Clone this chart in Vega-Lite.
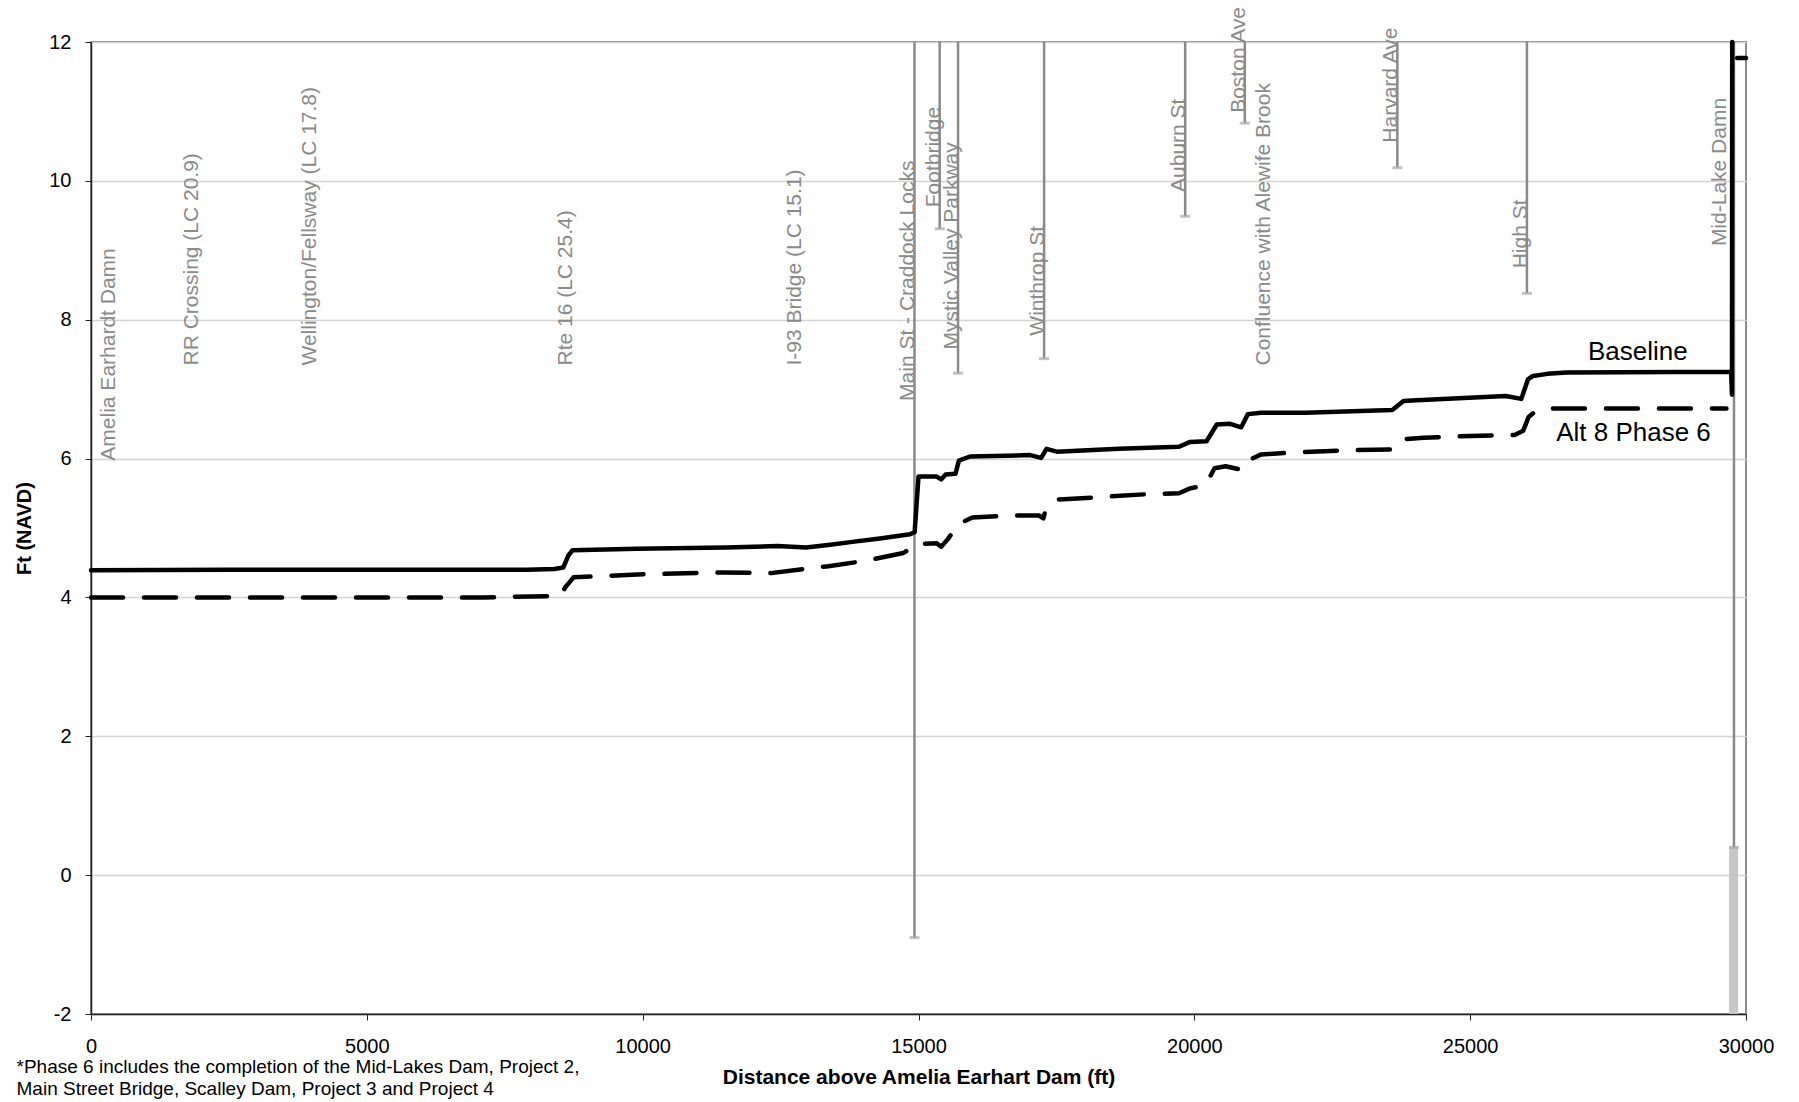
{
  "$schema": "https://vega.github.io/schema/vega-lite/v6.json",
  "width": 1655,
  "height": 972,
  "autosize": {"type": "none"},
  "padding": {"left": 91, "top": 42, "right": 53, "bottom": 88},
  "background": "white",
  "config": {
    "font": "Liberation Sans",
    "view": {"stroke": "#8c8c8c", "strokeWidth": 2},
    "axis": {"labelFont": "Liberation Sans", "titleFont": "Liberation Sans", "labelColor": "black", "titleColor": "black"}
  },
  "datasets": {
    "profiles": [
      {"series": "Baseline", "seg": "a", "x": 0, "y": 4.39},
      {"series": "Baseline", "seg": "a", "x": 2500, "y": 4.4},
      {"series": "Baseline", "seg": "a", "x": 7900, "y": 4.4},
      {"series": "Baseline", "seg": "a", "x": 8400, "y": 4.41},
      {"series": "Baseline", "seg": "a", "x": 8560, "y": 4.43},
      {"series": "Baseline", "seg": "a", "x": 8650, "y": 4.6},
      {"series": "Baseline", "seg": "a", "x": 8730, "y": 4.68},
      {"series": "Baseline", "seg": "a", "x": 9900, "y": 4.7},
      {"series": "Baseline", "seg": "a", "x": 11500, "y": 4.72},
      {"series": "Baseline", "seg": "a", "x": 12440, "y": 4.74},
      {"series": "Baseline", "seg": "a", "x": 12960, "y": 4.72},
      {"series": "Baseline", "seg": "a", "x": 13400, "y": 4.76},
      {"series": "Baseline", "seg": "a", "x": 13800, "y": 4.8},
      {"series": "Baseline", "seg": "a", "x": 14300, "y": 4.85},
      {"series": "Baseline", "seg": "a", "x": 14846, "y": 4.91},
      {"series": "Baseline", "seg": "a", "x": 14930, "y": 4.94},
      {"series": "Baseline", "seg": "a", "x": 15000, "y": 5.74},
      {"series": "Baseline", "seg": "a", "x": 15330, "y": 5.74},
      {"series": "Baseline", "seg": "a", "x": 15411, "y": 5.7},
      {"series": "Baseline", "seg": "a", "x": 15491, "y": 5.77},
      {"series": "Baseline", "seg": "a", "x": 15669, "y": 5.78},
      {"series": "Baseline", "seg": "a", "x": 15733, "y": 5.97},
      {"series": "Baseline", "seg": "a", "x": 15934, "y": 6.03},
      {"series": "Baseline", "seg": "a", "x": 17022, "y": 6.05},
      {"series": "Baseline", "seg": "a", "x": 17224, "y": 6.01},
      {"series": "Baseline", "seg": "a", "x": 17320, "y": 6.14},
      {"series": "Baseline", "seg": "a", "x": 17506, "y": 6.1},
      {"series": "Baseline", "seg": "a", "x": 18634, "y": 6.14},
      {"series": "Baseline", "seg": "a", "x": 19722, "y": 6.17},
      {"series": "Baseline", "seg": "a", "x": 19923, "y": 6.24},
      {"series": "Baseline", "seg": "a", "x": 20221, "y": 6.25},
      {"series": "Baseline", "seg": "a", "x": 20407, "y": 6.49},
      {"series": "Baseline", "seg": "a", "x": 20649, "y": 6.5},
      {"series": "Baseline", "seg": "a", "x": 20850, "y": 6.45},
      {"series": "Baseline", "seg": "a", "x": 20971, "y": 6.64},
      {"series": "Baseline", "seg": "a", "x": 21213, "y": 6.66},
      {"series": "Baseline", "seg": "a", "x": 22018, "y": 6.66},
      {"series": "Baseline", "seg": "a", "x": 23589, "y": 6.7},
      {"series": "Baseline", "seg": "a", "x": 23791, "y": 6.83},
      {"series": "Baseline", "seg": "a", "x": 24033, "y": 6.84},
      {"series": "Baseline", "seg": "a", "x": 25645, "y": 6.9},
      {"series": "Baseline", "seg": "a", "x": 25927, "y": 6.86},
      {"series": "Baseline", "seg": "a", "x": 26047, "y": 7.14},
      {"series": "Baseline", "seg": "a", "x": 26138, "y": 7.19},
      {"series": "Baseline", "seg": "a", "x": 26400, "y": 7.22},
      {"series": "Baseline", "seg": "a", "x": 26748, "y": 7.24},
      {"series": "Baseline", "seg": "a", "x": 29730, "y": 7.25},
      {"series": "Baseline", "seg": "a", "x": 29746, "y": 6.92},
      {"series": "Baseline", "seg": "a", "x": 29750, "y": 12},
      {"series": "Baseline", "seg": "b", "x": 29840, "y": 11.77},
      {"series": "Baseline", "seg": "b", "x": 30000, "y": 11.77},
      {"series": "Alt 8 Phase 6", "seg": "a", "x": 0, "y": 4.0},
      {"series": "Alt 8 Phase 6", "seg": "a", "x": 7128, "y": 4.0},
      {"series": "Alt 8 Phase 6", "seg": "a", "x": 8400, "y": 4.02},
      {"series": "Alt 8 Phase 6", "seg": "a", "x": 8514, "y": 4.03},
      {"series": "Alt 8 Phase 6", "seg": "a", "x": 8600, "y": 4.15},
      {"series": "Alt 8 Phase 6", "seg": "a", "x": 8665, "y": 4.21},
      {"series": "Alt 8 Phase 6", "seg": "a", "x": 8746, "y": 4.29},
      {"series": "Alt 8 Phase 6", "seg": "a", "x": 9901, "y": 4.33},
      {"series": "Alt 8 Phase 6", "seg": "a", "x": 11403, "y": 4.36},
      {"series": "Alt 8 Phase 6", "seg": "a", "x": 12327, "y": 4.35},
      {"series": "Alt 8 Phase 6", "seg": "a", "x": 13020, "y": 4.42},
      {"series": "Alt 8 Phase 6", "seg": "a", "x": 13367, "y": 4.45},
      {"series": "Alt 8 Phase 6", "seg": "a", "x": 14060, "y": 4.53},
      {"series": "Alt 8 Phase 6", "seg": "a", "x": 14726, "y": 4.64},
      {"series": "Alt 8 Phase 6", "seg": "a", "x": 14967, "y": 4.77},
      {"series": "Alt 8 Phase 6", "seg": "a", "x": 15330, "y": 4.78},
      {"series": "Alt 8 Phase 6", "seg": "a", "x": 15411, "y": 4.73},
      {"series": "Alt 8 Phase 6", "seg": "a", "x": 15532, "y": 4.84},
      {"series": "Alt 8 Phase 6", "seg": "a", "x": 15733, "y": 5.06},
      {"series": "Alt 8 Phase 6", "seg": "a", "x": 15975, "y": 5.15},
      {"series": "Alt 8 Phase 6", "seg": "a", "x": 16700, "y": 5.18},
      {"series": "Alt 8 Phase 6", "seg": "a", "x": 17183, "y": 5.18},
      {"series": "Alt 8 Phase 6", "seg": "a", "x": 17264, "y": 5.14},
      {"series": "Alt 8 Phase 6", "seg": "a", "x": 17300, "y": 5.25},
      {"series": "Alt 8 Phase 6", "seg": "a", "x": 17506, "y": 5.41},
      {"series": "Alt 8 Phase 6", "seg": "a", "x": 18191, "y": 5.44},
      {"series": "Alt 8 Phase 6", "seg": "a", "x": 19198, "y": 5.49},
      {"series": "Alt 8 Phase 6", "seg": "a", "x": 19722, "y": 5.5},
      {"series": "Alt 8 Phase 6", "seg": "a", "x": 19923, "y": 5.57},
      {"series": "Alt 8 Phase 6", "seg": "a", "x": 20205, "y": 5.62},
      {"series": "Alt 8 Phase 6", "seg": "a", "x": 20366, "y": 5.86},
      {"series": "Alt 8 Phase 6", "seg": "a", "x": 20568, "y": 5.89},
      {"series": "Alt 8 Phase 6", "seg": "a", "x": 20850, "y": 5.84},
      {"series": "Alt 8 Phase 6", "seg": "a", "x": 20906, "y": 5.95},
      {"series": "Alt 8 Phase 6", "seg": "a", "x": 21213, "y": 6.06},
      {"series": "Alt 8 Phase 6", "seg": "a", "x": 21857, "y": 6.09},
      {"series": "Alt 8 Phase 6", "seg": "a", "x": 22824, "y": 6.12},
      {"series": "Alt 8 Phase 6", "seg": "a", "x": 23589, "y": 6.13},
      {"series": "Alt 8 Phase 6", "seg": "a", "x": 23791, "y": 6.28},
      {"series": "Alt 8 Phase 6", "seg": "a", "x": 24154, "y": 6.3},
      {"series": "Alt 8 Phase 6", "seg": "a", "x": 24799, "y": 6.32},
      {"series": "Alt 8 Phase 6", "seg": "a", "x": 25806, "y": 6.34},
      {"series": "Alt 8 Phase 6", "seg": "a", "x": 25960, "y": 6.4},
      {"series": "Alt 8 Phase 6", "seg": "a", "x": 26060, "y": 6.6},
      {"series": "Alt 8 Phase 6", "seg": "a", "x": 26200, "y": 6.69},
      {"series": "Alt 8 Phase 6", "seg": "a", "x": 26434, "y": 6.72},
      {"series": "Alt 8 Phase 6", "seg": "a", "x": 29645, "y": 6.72}
    ],
    "landmarks": [
      {"name": "Amelia Earhardt Damn", "lx": 437, "ly": 5.97},
      {"name": "RR Crossing (LC 20.9)", "lx": 1933, "ly": 7.34},
      {"name": "Wellington/Fellsway (LC 17.8)", "lx": 4075, "ly": 7.34},
      {"name": "Rte 16 (LC 25.4)", "lx": 8711, "ly": 7.34},
      {"name": "I-93 Bridge (LC 15.1)", "lx": 12869, "ly": 7.34},
      {"name": "Main St - Craddock Locks", "lx": 14927, "ly": 6.83, "px": 14927, "cap": -0.9},
      {"name": "Footbridge", "lx": 15384, "ly": 9.62, "px": 15384, "cap": 9.31},
      {"name": "Mystic Valley Parkway", "lx": 15717, "ly": 7.57, "px": 15717, "cap": 7.23},
      {"name": "Winthrop St", "lx": 17277, "ly": 7.77, "px": 17277, "cap": 7.44},
      {"name": "Auburn St", "lx": 19834, "ly": 9.84, "px": 19834, "cap": 9.49},
      {"name": "Boston Ave", "lx": 20915, "ly": 10.98, "px": 20915, "cap": 10.83},
      {"name": "Confluence with Alewife Brook", "lx": 21373, "ly": 7.34},
      {"name": "Harvard Ave", "lx": 23680, "ly": 10.55, "px": 23680, "cap": 10.19},
      {"name": "High St", "lx": 26029, "ly": 8.74, "px": 26029, "cap": 8.38},
      {"name": "Mid-Lake Damn", "lx": 29646, "ly": 9.06, "px": 29782, "cap": 0.4}
    ],
    "damBar": [{"x": 29775, "y": -2, "y2": 0.4}],
    "seriesLabels": [
      {"label": "Baseline", "x": 28040, "y": 7.53},
      {"label": "Alt 8 Phase 6", "x": 27960, "y": 6.37}
    ]
  },
  "layer": [
    {
      "data": {"name": "damBar"},
      "mark": {"type": "rule", "color": "#c6c6c6", "strokeWidth": 9},
      "encoding": {
        "x": {"field": "x", "type": "quantitative", "scale": {"domain": [0, 30000], "nice": false},
          "axis": {"title": "Distance above Amelia Earhart Dam (ft)", "values": [0, 5000, 10000, 15000, 20000, 25000, 30000], "format": "d", "grid": false,
            "domainColor": "#222222", "domainWidth": 1.5, "tickColor": "#222222", "tickSize": 6, "labelFontSize": 20, "labelPadding": 16, "labelFlush": false, "labelOverlap": false,
            "titleFontSize": 21, "titleFontWeight": "bold", "titlePadding": 10}},
        "y": {"field": "y", "type": "quantitative", "scale": {"domain": [-2, 12], "nice": false},
          "axis": {"title": "Ft (NAVD)", "values": [-2, 0, 2, 4, 6, 8, 10, 12], "labelExpr": "'' + datum.value", "grid": true, "gridColor": "#d4d4d4", "gridWidth": 1.5,
            "domainColor": "#222222", "domainWidth": 1.5, "tickColor": "#222222", "tickSize": 6, "labelFontSize": 20, "labelPadding": 14,
            "titleFontSize": 20, "titleFontWeight": "bold", "titlePadding": 14}},
        "y2": {"field": "y2"}
      }
    },
    {
      "data": {"name": "landmarks"},
      "transform": [{"filter": "isValid(datum.cap)"}],
      "mark": {"type": "rule", "color": "#8a8a8a", "strokeWidth": 2.5},
      "encoding": {
        "x": {"field": "px", "type": "quantitative"},
        "y": {"field": "cap", "type": "quantitative"},
        "y2": {"datum": 12}
      }
    },
    {
      "data": {"name": "landmarks"},
      "transform": [{"filter": "isValid(datum.cap)"}],
      "mark": {"type": "tick", "orient": "horizontal", "color": "#a8a8a8", "size": 10, "thickness": 3},
      "encoding": {
        "x": {"field": "px", "type": "quantitative"},
        "y": {"field": "cap", "type": "quantitative"}
      }
    },
    {
      "data": {"name": "landmarks"},
      "mark": {"type": "text", "angle": 270, "align": "left", "baseline": "alphabetic", "fontSize": 21, "color": "#8a8a8a", "font": "Liberation Sans"},
      "encoding": {
        "x": {"field": "lx", "type": "quantitative"},
        "y": {"field": "ly", "type": "quantitative"},
        "text": {"field": "name"}
      }
    },
    {
      "data": {"name": "profiles"},
      "transform": [{"filter": "datum.series === 'Baseline'"}],
      "mark": {"type": "line", "color": "black", "strokeWidth": 4.5, "strokeJoin": "round", "strokeCap": "round"},
      "encoding": {
        "x": {"field": "x", "type": "quantitative"},
        "y": {"field": "y", "type": "quantitative"},
        "detail": {"field": "seg"},
        "order": {"field": "x", "type": "quantitative"}
      }
    },
    {
      "data": {"name": "profiles"},
      "transform": [{"filter": "datum.series === 'Alt 8 Phase 6'"}],
      "mark": {"type": "line", "color": "black", "strokeWidth": 4.5, "strokeDash": [32, 21], "strokeCap": "round", "strokeJoin": "round"},
      "encoding": {
        "x": {"field": "x", "type": "quantitative"},
        "y": {"field": "y", "type": "quantitative"},
        "order": {"field": "x", "type": "quantitative"}
      }
    },
    {
      "data": {"name": "seriesLabels"},
      "mark": {"type": "text", "fontSize": 26, "color": "black", "align": "center", "baseline": "middle", "font": "Liberation Sans"},
      "encoding": {
        "x": {"field": "x", "type": "quantitative"},
        "y": {"field": "y", "type": "quantitative"},
        "text": {"field": "label"}
      }
    },
    {
      "data": {"values": [{"note": "Phase 6"}]},
      "mark": {"type": "text", "align": "left", "baseline": "top", "fontSize": 19, "lineHeight": 22, "color": "black", "font": "Liberation Sans",
        "text": ["*Phase 6 includes the completion of the Mid-Lakes Dam, Project 2,", "Main Street Bridge, Scalley Dam, Project 3 and Project 4"]},
      "encoding": {
        "x": {"datum": -1350},
        "y": {"datum": -2.64}
      }
    }
  ]
}
